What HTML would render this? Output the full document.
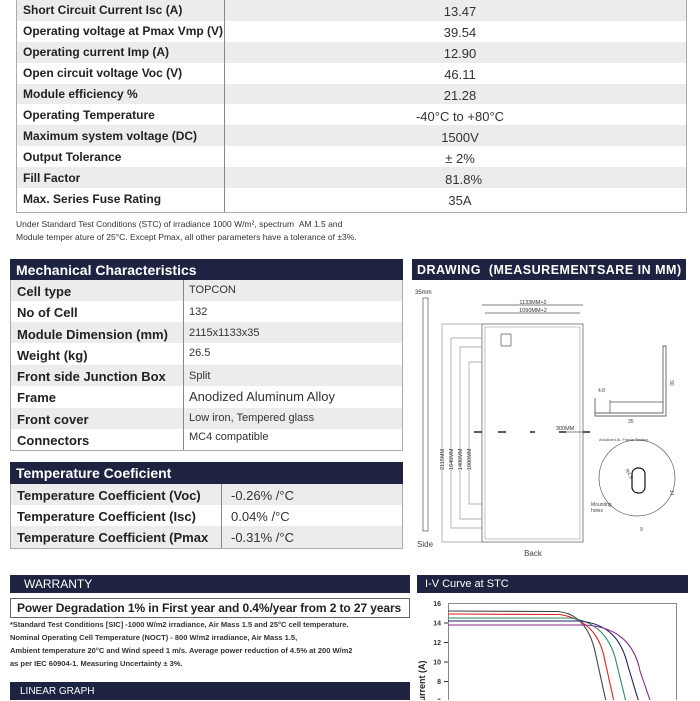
<!DOCTYPE html>
<html><head><style>
*{margin:0;padding:0;box-sizing:border-box}
body{width:700px;height:700px;overflow:hidden;background:#fff;font-family:"Liberation Sans",sans-serif;position:relative;color:#222}
.a{position:absolute}
.hdr{position:absolute;background:#1e2341;color:#fff;font-weight:bold}
</style></head><body>
<!-- Top table -->
<div class="a" style="left:16px;top:-2px;width:671px;height:215px;border:1px solid #aaa;border-top:none"></div>
<div class="a" style="left:17px;top:0;width:669px;height:21px;background:#ececec"></div>
<div class="a" style="left:17px;top:42px;width:669px;height:21px;background:#ececec"></div>
<div class="a" style="left:17px;top:84px;width:669px;height:20px;background:#ececec"></div>
<div class="a" style="left:17px;top:125px;width:669px;height:21px;background:#ececec"></div>
<div class="a" style="left:17px;top:167px;width:669px;height:21px;background:#ececec"></div>
<div class="a" style="left:224px;top:0;width:1px;height:212px;background:#888"></div>
<div style="position:absolute;left:23px;top:0;font-size:12px;font-weight:bold;line-height:21px;white-space:nowrap">
Short Circuit Current Isc (A)<br>Operating voltage at Pmax Vmp (V)<br>Operating current Imp (A)<br>Open circuit voltage Voc (V)<br>Module efficiency %<br>Operating Temperature<br>Maximum system voltage (DC)<br>Output Tolerance<br>Fill Factor<br>Max. Series Fuse Rating</div>
<div style="position:absolute;left:380px;width:160px;top:1px;font-size:13px;line-height:21px;text-align:center;color:#333">
13.47<br>39.54<br>12.90<br>46.11<br>21.28<br>-40°C to +80°C<br>1500V<br>± 2%<br>&nbsp;&nbsp;81.8%<br>35A</div>
<div class="a" style="left:16px;top:218px;font-size:8.5px;line-height:13px;color:#333">Under Standard Test Conditions (STC) of irradiance 1000 W/m², spectrum &nbsp;AM 1.5 and<br>Module temper ature of 25°C. Except Pmax, all other parameters have a tolerance of ±3%.</div>

<!-- Mechanical -->
<div class="hdr" style="left:10px;top:259px;width:393px;height:21px;font-size:14px;line-height:22px;padding-left:6px">Mechanical Characteristics</div>
<div class="a" style="left:10px;top:280px;width:393px;height:171px;border:1px solid #aaa;border-top:none"></div>
<div class="a" style="left:11px;top:280px;width:391px;height:21px;background:#ececec"></div>
<div class="a" style="left:11px;top:322px;width:391px;height:21px;background:#ececec"></div>
<div class="a" style="left:11px;top:365px;width:391px;height:21px;background:#ececec"></div>
<div class="a" style="left:11px;top:408px;width:391px;height:21px;background:#ececec"></div>
<div class="a" style="left:183px;top:280px;width:1px;height:170px;background:#888"></div>
<div style="position:absolute;left:17px;top:281px;font-size:13px;font-weight:bold;line-height:21.3px;white-space:nowrap">Cell type<br>No of Cell<br>Module Dimension (mm)<br>Weight (kg)<br>Front side Junction Box<br>Frame<br>Front cover<br>Connectors</div>
<div class="a" style="left:189px;top:284px;font-size:11px;color:#333">TOPCON</div>
<div class="a" style="left:189px;top:306px;font-size:11px;color:#333">132</div>
<div class="a" style="left:189px;top:327px;font-size:11px;color:#333">2115x1133x35</div>
<div class="a" style="left:189px;top:347px;font-size:11px;color:#333">26.5</div>
<div class="a" style="left:189px;top:370px;font-size:11px;color:#333">Split</div>
<div class="a" style="left:189px;top:389px;font-size:13px;color:#333">Anodized Aluminum Alloy</div>
<div class="a" style="left:189px;top:412px;font-size:11px;color:#333">Low iron, Tempered glass</div>
<div class="a" style="left:189px;top:431px;font-size:11px;color:#333">MC4 compatible</div>

<!-- Temperature -->
<div class="hdr" style="left:10px;top:462px;width:393px;height:22px;font-size:14px;line-height:23px;padding-left:6px">Temperature Coeficient</div>
<div class="a" style="left:10px;top:484px;width:393px;height:65px;border:1px solid #aaa;border-top:none"></div>
<div class="a" style="left:11px;top:484px;width:391px;height:21px;background:#ececec"></div>
<div class="a" style="left:11px;top:526px;width:391px;height:22px;background:#ececec"></div>
<div class="a" style="left:221px;top:484px;width:1px;height:64px;background:#888"></div>
<div style="position:absolute;left:17px;top:485px;font-size:13px;font-weight:bold;line-height:21px;white-space:nowrap">Temperature Coefficient (Voc)<br>Temperature Coefficient (Isc)<br>Temperature Coefficient (Pmax</div>
<div style="position:absolute;left:231px;top:485px;font-size:13px;line-height:21px;color:#333">-0.26% /°C<br>0.04% /°C<br>-0.31% /°C</div>

<!-- Drawing -->
<div class="hdr" style="left:412px;top:259px;width:274px;height:21px;font-size:12.5px;line-height:22px;padding-left:5px;letter-spacing:0.5px">DRAWING &nbsp;(MEASUREMENTSARE IN MM)</div>
<svg class="a" style="left:400px;top:280px" width="300" height="285" font-family="Liberation Sans" fill="none" stroke="#555" stroke-width="0.7">
<text x="15" y="14" font-size="6" fill="#333" stroke="none">35mm</text>
<rect x="23" y="18" width="5" height="233"/>
<text x="17" y="267" font-size="8" fill="#444" stroke="none">Side</text>
<rect x="82" y="44" width="101" height="218"/>
<rect x="85" y="47" width="95" height="212" stroke="#aaa"/>
<rect x="101" y="54" width="10" height="12" rx="1"/>
<line x1="82" y1="25" x2="183" y2="25"/><line x1="85" y1="33" x2="180" y2="33"/>
<text x="133" y="24" font-size="5.5" fill="#333" stroke="none" text-anchor="middle">1133MM+2</text>
<text x="133" y="32" font-size="5.5" fill="#333" stroke="none" text-anchor="middle">1090MM+2</text>
<polyline points="82,44 42,44 42,262 82,262" stroke="#999"/>
<polyline points="82,58 51,58 51,248 82,248" stroke="#999"/>
<polyline points="82,67 60,67 60,239 82,239" stroke="#999"/>
<polyline points="82,82 69,82 69,224 82,224" stroke="#999"/>
<g font-size="5.5" fill="#333" stroke="none">
<text transform="translate(44,190) rotate(-90)">2115MM</text>
<text transform="translate(53,190) rotate(-90)">1640MM</text>
<text transform="translate(62,190) rotate(-90)">1400MM</text>
<text transform="translate(71,190) rotate(-90)">1000MM</text>
<text x="156" y="150">300MM</text>
</g>
<g stroke="#222" stroke-width="1.5"><line x1="74" y1="152" x2="82" y2="152"/><line x1="98" y1="152" x2="106" y2="152"/><line x1="130" y1="152" x2="135" y2="152"/><line x1="159" y1="152" x2="166" y2="152"/><line x1="183" y1="152" x2="190" y2="152"/></g>
<line x1="166" y1="152" x2="183" y2="152"/>
<text x="133" y="276" font-size="8" fill="#444" stroke="none" text-anchor="middle">Back</text>
<path d="M195 118 V133 H263 V66 H266 V136 H195 Z" stroke="#333"/>
<line x1="210" y1="120" x2="210" y2="133"/><line x1="210" y1="122" x2="263" y2="122"/>
<g font-size="5" fill="#444" stroke="none"><text x="198" y="112">4.8</text><text x="228" y="143">35</text><text x="199" y="161" font-size="4">Anodized Al. Frame Section</text><text transform="translate(270,100) rotate(90)">30</text>
<text x="191" y="226">Mounting</text><text x="191" y="232">holes</text><text x="240" y="251">9</text><text transform="translate(270,210) rotate(90)">14</text>
<text transform="translate(225,190) rotate(60)">R4.5</text></g>
<circle cx="237" cy="198" r="38"/>
<rect x="232" y="188" width="13" height="25" rx="6" stroke="#111" stroke-width="1.2"/>
</svg>

<!-- Warranty -->
<div class="hdr" style="left:10px;top:575px;width:400px;height:18px;font-size:12px;line-height:19px;padding-left:14px;font-weight:normal">WARRANTY</div>
<div class="a" style="left:10px;top:598px;width:400px;height:20px;border:1px solid #666;font-size:12px;font-weight:bold;line-height:19px;padding-left:6px;white-space:nowrap;letter-spacing:-0.1px">Power Degradation 1% in First year and 0.4%/year from 2 to 27 years</div>
<div class="a" style="left:10px;top:618px;font-size:7.5px;font-weight:bold;line-height:13px;color:#333;white-space:nowrap">*Standard Test Conditions [SIC] -1000 W/m2 irradiance, Air Mass 1.5 and 25°C cell temperature.<br>Nominal Operating Cell Temperature (NOCT) - 800 W/m2 irradiance, Air Mass 1.5,<br>Ambient temperature 20°C and Wind speed 1 m/s. Average power reduction of 4.5% at 200 W/m2<br>as per IEC 60904-1. Measuring Uncertainty ± 3%.</div>
<div class="hdr" style="left:10px;top:682px;width:400px;height:18px;font-size:10px;line-height:19px;padding-left:10px;font-weight:normal">LINEAR GRAPH</div>

<!-- IV curve -->
<div class="hdr" style="left:417px;top:575px;width:271px;height:18px;font-size:11px;line-height:19px;padding-left:8px;font-weight:normal">I-V Curve at STC</div>
<svg class="a" style="left:410px;top:596px" width="290" height="104" font-family="Liberation Sans">
<rect x="38.5" y="7.5" width="228" height="110" fill="none" stroke="#888"/>
<g font-size="7" font-weight="bold" fill="#333" text-anchor="end">
<text x="31" y="10">16</text><text x="31" y="29.5">14</text><text x="31" y="49">12</text><text x="31" y="68.5">10</text><text x="31" y="88">8</text><text x="31" y="107.5">6</text></g>
<g stroke="#333"><line x1="34" y1="27" x2="38" y2="27"/><line x1="34" y1="46.5" x2="38" y2="46.5"/><line x1="34" y1="66" x2="38" y2="66"/><line x1="34" y1="85.5" x2="38" y2="85.5"/><line x1="34" y1="105" x2="38" y2="105"/></g>
<text transform="translate(15,112) rotate(-90)" font-size="9" font-weight="bold" fill="#222">Current (A)</text>
<text x="42" y="108" font-size="5" fill="#222">Incident Irrad. = 1000 W/m²</text>
<g fill="none" stroke-width="1.1">
<path d="M38 15 L148 15.5 C165 17 180 28 186 60 L197 110" stroke="#444"/>
<path d="M38 18 L150 18.5 C172 22 190 35 195 65 L205 110" stroke="#d22"/>
<path d="M38 22 L160 22 C185 25 200 40 206 65 L217 110" stroke="#2a8a6a"/>
<path d="M38 25 L170 25 C200 28 212 45 218 70 L230 110" stroke="#226"/>
<path d="M38 29 L175 29 C210 31 225 50 230 75 L242 110" stroke="#8a2a8a"/>
</g>
</svg>
</body></html>
